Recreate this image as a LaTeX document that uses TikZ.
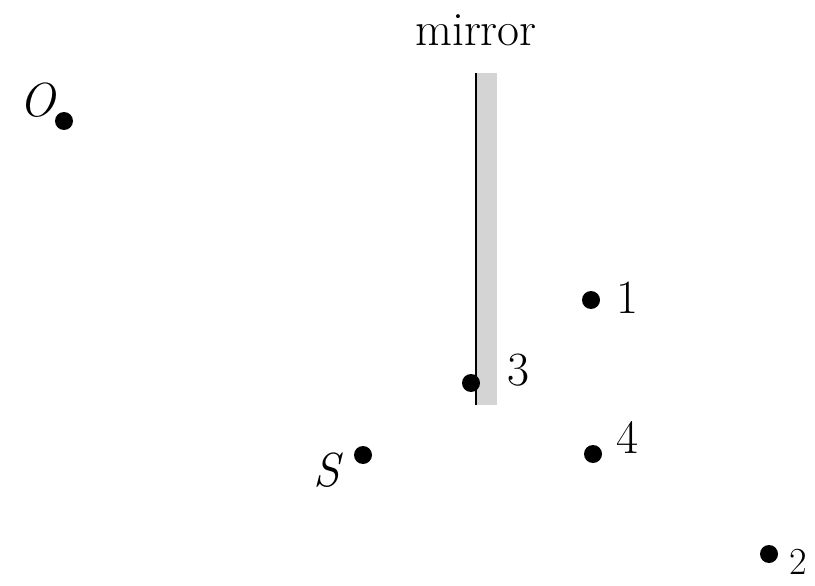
\documentclass[tikz,border=0pt]{standalone}
\usepackage{xcolor}
\usepackage{tikz}
\usetikzlibrary{positioning}
\definecolor{mirrorgray}{RGB}{212,212,212}
\tikzset{
  dot/.style={circle, fill=black, inner sep=0pt, minimum size=0.45cm},
  lbl/.style={font=\fontsize{34}{40}\selectfont, inner sep=0pt}
}
\begin{document}
\begin{tikzpicture}
  \useasboundingbox (0,0) rectangle (20.375,14.625);
  % Mirror
  \fill[mirrorgray] (11.9,4.5) rectangle (12.425,12.8);
  \draw[line width=1.4pt] (11.9,4.5) -- (11.9,12.8);
  \node[lbl] (mirror) at (11.9,13.875) {mirror};
  % Points
  \node[dot] (O) at (1.6,11.6) {};
  \node[dot] (p3) at (11.775,5.05) {};
  \node[dot] (p1) at (14.775,7.125) {};
  \node[dot] (p4) at (14.825,3.275) {};
  \node[dot] (S) at (9.075,3.25) {};
  \node[dot] (p2) at (19.225,0.775) {};
  % Labels
  \node[lbl] (Olbl) at (0.95,12.125) {\textit{O}};
  \node[lbl] (lbl3) at (12.95,5.375) {3};
  \node[lbl] (lbl1) at (15.675,7.175) {1};
  \node[lbl] (lbl4) at (15.675,3.675) {4};
  \node[lbl] (Slbl) at (8.2,2.875) {\textit{S}};
  \node[lbl, scale=0.8] (lbl2) at (19.95,0.58) {2};
\end{tikzpicture}
\end{document}
